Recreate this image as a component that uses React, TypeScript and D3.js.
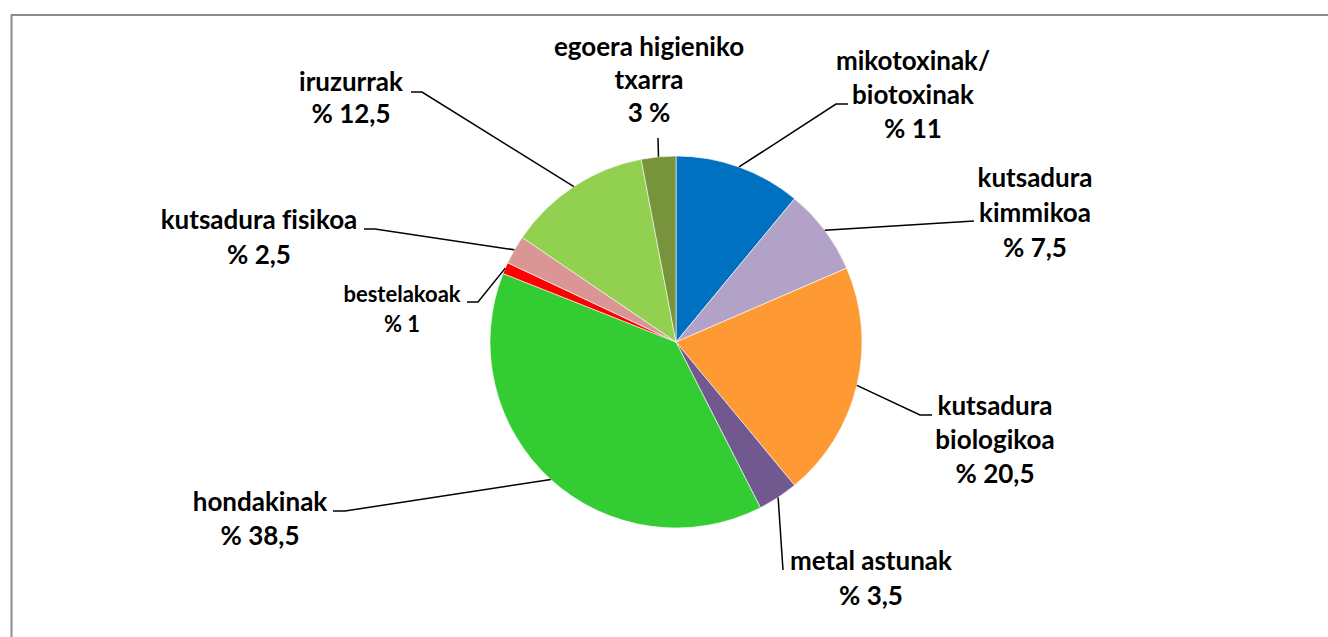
import * as d3 from 'd3';

// slice order: clockwise from 12 o'clock
const categories = [
  'mikotoxinak/biotoxinak',
  'kutsadura kimmikoa',
  'kutsadura biologikoa',
  'metal astunak',
  'hondakinak',
  'bestelakoak',
  'kutsadura fisikoa',
  'iruzurrak',
  'egoera higieniko txarra',
];
const values = [11, 7.5, 20.5, 3.5, 38.5, 1, 2.5, 12.5, 3];
const nameLines = [
  ['mikotoxinak/', 'biotoxinak'],
  ['kutsadura', 'kimmikoa'],
  ['kutsadura', 'biologikoa'],
  ['metal astunak'],
  ['hondakinak'],
  ['bestelakoak'],
  ['kutsadura fisikoa'],
  ['iruzurrak'],
  ['egoera higieniko', 'txarra'],
];
const valueLabels = ['% 11', '% 7,5', '% 20,5', '% 3,5', '% 38,5', '% 1', '% 2,5', '% 12,5', '3 %'];
const colors = ['#0070C0', '#B3A2C7', '#FF9933', '#71588F', '#33CC33', '#FF0000', '#D99694', '#92D050', '#77933C'];

// label placement: text centre, first baseline, line gap, font size, leader elbow/end
const labelLayout = [
  { x: 913, y: 70, gap: 34, size: 26, elbow: [836, 104], end: [848, 104] },
  { x: 1035, y: 187, gap: 35, size: 26, elbow: null, end: [974, 221] },
  { x: 995, y: 415, gap: 34, size: 26, elbow: [920, 415], end: [932, 415] },
  { x: 871, y: 570, gap: 35, size: 26, elbow: null, end: [783, 570] },
  { x: 260, y: 511, gap: 34, size: 26, elbow: [345, 511], end: [333, 511] },
  { x: 402, y: 302, gap: 30, size: 22, elbow: [478, 302], end: [467, 302] },
  { x: 259, y: 229, gap: 35, size: 26, elbow: [375, 229], end: [364, 229] },
  { x: 351, y: 91, gap: 32, size: 26, elbow: [422, 92], end: [411, 92] },
  { x: 649, y: 56, gap: 33, size: 26, elbow: null, end: [658, 138] },
];

const W = 1328;
const H = 637;
const cx = 676;
const cy = 342;
const radius = 186;

export default function App() {
  const pie = d3.pie<number>().sort(null).value(d => d);
  const arcs = pie(values);
  const arc = d3.arc<d3.PieArcDatum<number>>().innerRadius(0).outerRadius(radius);

  return (
    <svg width={W} height={H} style={{ position: 'absolute', left: 0, top: 0, background: '#fff' }}>
      <rect x={11.5} y={15} width={W + 20} height={H + 20} fill="#fff" stroke="#8c8c8c" strokeWidth={2} />
      <g transform={`translate(${cx},${cy})`}>
        {arcs.map((a, i) => (
          <path key={categories[i]} d={arc(a) || ''} fill={colors[i]} stroke="#fff" strokeWidth={0.6} />
        ))}
      </g>
      {arcs.map((a, i) => {
        // leader starts at the slice's mid angle on the rim
        const mid = (a.startAngle + a.endAngle) / 2;
        const sx = cx + radius * Math.sin(mid);
        const sy = cy - radius * Math.cos(mid);
        const L = labelLayout[i];
        const pts: [number, number][] = [[sx, sy]];
        if (L.elbow) pts.push(L.elbow as [number, number]);
        pts.push(L.end as [number, number]);
        return (
          <path key={'l' + i} d={d3.line()(pts) || ''} fill="none" stroke="#000" strokeWidth={1.5} />
        );
      })}
      {categories.map((c, i) => {
        const L = labelLayout[i];
        const lines = [...nameLines[i], valueLabels[i]];
        return (
          <text key={'t' + c} textAnchor="middle" fontFamily="Lato, 'Open Sans', sans-serif" fontWeight="bold"
            fontSize={L.size} fill="#000" style={{ fontVariantLigatures: 'none' }}>
            {lines.map((s, j) => (
              <tspan key={j} x={L.x} y={L.y + j * L.gap}>{s}</tspan>
            ))}
          </text>
        );
      })}
    </svg>
  );
}
